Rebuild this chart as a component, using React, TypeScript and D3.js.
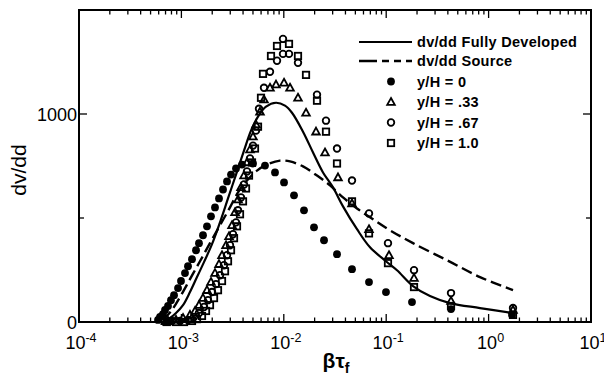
import React from "react";
import * as d3 from "d3";

// ---------- data ----------
// y/H = 0 (filled circles)
const yh0: [number, number][] = [
  [5.91e-4, 10], [6.18e-4, 24], [6.61e-4, 38], [6.92e-4, 58], [7.4e-4, 77], [7.91e-4, 105],
  [8.47e-4, 129], [9.27e-4, 163], [9.91e-4, 197], [1.084e-3, 235], [1.16e-3, 268],
  [1.269e-3, 302], [1.389e-3, 345], [1.485e-3, 379], [1.625e-3, 417], [1.778e-3, 460],
  [1.945e-3, 508], [2.129e-3, 551], [2.329e-3, 594], [2.549e-3, 637], [2.788e-3, 676],
  [3.051e-3, 709], [3.414e-3, 738], [3.906e-3, 757], [5.002e-3, 762], [6.552e-3, 752],
  [8.206e-3, 719], [1.005e-2, 671], [1.258e-2, 609], [1.575e-2, 537], [1.972e-2, 455],
  [2.47e-2, 393], [3.308e-2, 326], [4.634e-2, 254], [6.792e-2, 192], [9.95e-2, 144],
  [0.1786, 96], [0.4295, 62], [1.692, 34],
];
// y/H = .33 (triangles)
const yh33: [number, number][] = [
  [7.0e-4, 3], [7.4e-4, 5], [8.86e-4, 10], [1.037e-3, 19], [1.213e-3, 34], [1.358e-3, 53], [1.485e-3, 81],
  [1.625e-3, 115], [1.778e-3, 153], [1.945e-3, 192], [2.129e-3, 235], [2.329e-3, 278],
  [2.492e-3, 321], [2.727e-3, 369], [2.917e-3, 412], [3.12e-3, 465], [3.338e-3, 527],
  [3.571e-3, 589], [3.819e-3, 647], [4.086e-3, 704], [4.371e-3, 767], [4.676e-3, 829],
  [5.002e-3, 891], [5.351e-3, 949], [5.855e-3, 1011], [6.406e-3, 1069], [7.332e-3, 1126],
  [8.393e-3, 1141], [1.005e-2, 1150], [1.15e-2, 1126], [1.376e-2, 1078], [1.648e-2, 1006],
  [2.063e-2, 915], [2.525e-2, 815], [3.383e-2, 695], [4.634e-2, 570], [6.792e-2, 446],
  [0.1065, 321], [0.1869, 211], [0.4295, 101], [1.731, 58],
];
// y/H = .67 (open circles)
const yh67: [number, number][] = [
  [6.8e-4, 2], [7.6e-4, 3], [8.09e-4, 5], [9.69e-4, 5], [1.16e-3, 10], [1.327e-3, 24], [1.485e-3, 43], [1.662e-3, 72],
  [1.819e-3, 105], [1.99e-3, 144], [2.177e-3, 182], [2.382e-3, 225], [2.606e-3, 273],
  [2.788e-3, 321], [2.983e-3, 369], [3.191e-3, 422], [3.414e-3, 479], [3.571e-3, 537],
  [3.819e-3, 599], [4.086e-3, 661], [4.371e-3, 724], [4.676e-3, 786], [5.002e-3, 848],
  [5.351e-3, 920], [5.725e-3, 1025], [6.406e-3, 1126], [7.332e-3, 1203], [8.583e-3, 1256],
  [9.82e-3, 1289], [1.124e-2, 1289], [9.82e-3, 1361], [1.376e-2, 1246], [2.11e-2, 1093],
  [2.583e-2, 968], [3.308e-2, 834], [4.634e-2, 680], [6.792e-2, 522], [0.1041, 379],
  [0.1869, 249], [0.4295, 139], [1.731, 67],
];
// y/H = 1.0 (open squares)
const yh10: [number, number][] = [
  [7.2e-4, 0], [8.86e-4, 0], [1.06e-3, 0], [1.269e-3, 5], [1.42e-3, 14], [1.589e-3, 29], [1.739e-3, 53],
  [1.902e-3, 81], [2.082e-3, 115], [2.277e-3, 153], [2.492e-3, 197], [2.666e-3, 244],
  [2.852e-3, 292], [3.051e-3, 345], [3.264e-3, 403], [3.491e-3, 460], [3.735e-3, 518],
  [3.995e-3, 580], [4.274e-3, 642], [4.572e-3, 704], [4.891e-3, 767], [5.232e-3, 834],
  [5.598e-3, 939], [5.988e-3, 1078], [6.264e-3, 1193], [7.499e-3, 1279], [8.583e-3, 1327],
  [1.124e-2, 1337], [1.376e-2, 1279], [1.648e-2, 1188], [2.11e-2, 1064], [2.583e-2, 915],
  [3.308e-2, 762], [4.634e-2, 580], [6.792e-2, 426], [0.1041, 283], [0.1869, 168],
  [0.4295, 77], [1.731, 34],
];
// dv/dd fully developed (solid)
const fullyDeveloped: [number, number][] = [
  [6.61e-4, 5], [7.74e-4, 19], [8.86e-4, 43], [1.037e-3, 81], [1.213e-3, 144], [1.42e-3, 216],
  [1.662e-3, 288], [1.99e-3, 374], [2.382e-3, 479], [2.852e-3, 594], [3.414e-3, 709],
  [4.086e-3, 824], [4.782e-3, 920], [5.598e-3, 987], [6.701e-3, 1035], [8.393e-3, 1054],
  [1.027e-2, 1040], [1.202e-2, 1006], [1.54e-2, 915], [1.929e-2, 815], [2.415e-2, 719],
  [3.024e-2, 647], [3.785e-2, 556], [5.186e-2, 446], [6.948e-2, 359], [9.95e-2, 292],
  [0.1275, 249], [0.1827, 173], [0.2677, 125], [0.4198, 91], [0.824, 67], [1.731, 43],
];
// dv/dd source (dashed)
const source: [number, number][] = [
  [6.61e-4, 10], [8.09e-4, 58], [9.69e-4, 120], [1.213e-3, 206], [1.519e-3, 292],
  [1.902e-3, 379], [2.382e-3, 465], [2.983e-3, 551], [3.571e-3, 623], [4.371e-3, 680],
  [5.473e-3, 728], [6.853e-3, 757], [9.18e-3, 776], [1.15e-2, 772], [1.54e-2, 748],
  [2.11e-2, 704], [2.827e-2, 657], [3.785e-2, 599], [5.186e-2, 546], [7.431e-2, 494],
  [0.1089, 441], [0.1827, 379], [0.3925, 297], [0.824, 216], [1.731, 153],
];

const xTickExps = [-4, -3, -2, -1, 0, 1];
const yTicksLabeled = [0, 1000];
const yTicksAll = [0, 500, 1000, 1500];
const legendLabels = [
  "dv/dd Fully Developed",
  "dv/dd Source",
  "y/H = 0",
  "y/H = .33",
  "y/H = .67",
  "y/H = 1.0",
];

// ---------- layout ----------
const W = 604, H = 378;
const L = 79, R = 591, T = 10, B = 322;
const FONT = "'Liberation Sans', Arial, Helvetica, sans-serif";

export default function App() {
  const x = d3.scaleLog().domain([1e-4, 10]).range([L, R]);
  const y = d3.scaleLinear().domain([0, 1500]).range([B, T]);
  const line = d3
    .line<[number, number]>()
    .x((d) => x(d[0]))
    .y((d) => y(d[1]))
    .curve(d3.curveCatmullRom.alpha(0.5));

  const minor: number[] = [];
  for (let e = -4; e < 1; e++) for (let k = 2; k <= 9; k++) minor.push(k * Math.pow(10, e));

  const SW = 1.8;
  const circle = (cx: number, cy: number, key: string) => (
    <circle key={key} cx={cx} cy={cy} r={3.3} fill="none" stroke="#000" strokeWidth={SW} />
  );
  const square = (cx: number, cy: number, key: string) => (
    <rect key={key} x={cx - 3.2} y={cy - 3.2} width={6.4} height={6.4} fill="none" stroke="#000" strokeWidth={SW} />
  );
  const tri = (cx: number, cy: number, key: string) => (
    <path key={key} d={`M${cx},${cy - 4}L${cx + 3.8},${cy + 2.8}L${cx - 3.8},${cy + 2.8}Z`} fill="none" stroke="#000" strokeWidth={SW} />
  );
  const dot = (cx: number, cy: number, key: string) => (
    <circle key={key} cx={cx} cy={cy} r={3.9} fill="#000" />
  );

  const legX1 = 359, legX2 = 412, legTx = 417, legMx = 391;
  const legY = [42, 61, 81.5, 102, 122.5, 143];

  return (
    <svg width={W} height={H} style={{ position: "absolute", left: 0, top: 0, background: "#fff" }} fontFamily={FONT}>
      <rect x={0} y={0} width={W} height={H} fill="#fff" />
      {/* ticks */}
      <g stroke="#000" strokeWidth={1.3}>
        {xTickExps.map((e) => {
          const px = x(Math.pow(10, e));
          return (
            <g key={"xt" + e}>
              <line x1={px} x2={px} y1={B} y2={B - 8} />
              <line x1={px} x2={px} y1={T} y2={T + 8} />
            </g>
          );
        })}
        {minor.map((v, i) => {
          const px = x(v);
          return (
            <g key={"xm" + i}>
              <line x1={px} x2={px} y1={B} y2={B - 4.5} />
              <line x1={px} x2={px} y1={T} y2={T + 4.5} />
            </g>
          );
        })}
        {yTicksAll.map((v) => {
          const py = y(v);
          const len = v === 500 ? 5 : 8;
          return (
            <g key={"yt" + v}>
              <line x1={L} x2={L + len} y1={py} y2={py} />
              <line x1={R} x2={R - len} y1={py} y2={py} />
            </g>
          );
        })}
      </g>
      {/* frame */}
      <rect x={L} y={T} width={R - L} height={B - T} fill="none" stroke="#000" strokeWidth={2} />
      {/* x tick labels */}
      {xTickExps.map((e) => (
        <text key={"xl" + e} x={x(Math.pow(10, e)) + 2} y={349} fontSize={18} textAnchor="middle" fill="#000">
          10<tspan dy={-7} fontSize={12.5}>{e}</tspan>
        </text>
      ))}
      {/* y tick labels */}
      {yTicksLabeled.map((v) => (
        <text key={"yl" + v} x={L - 2} y={y(v) + 6.5} fontSize={18} textAnchor="end" fill="#000">
          {v}
        </text>
      ))}
      {/* axis titles */}
      <text transform={`translate(26,170) rotate(-90)`} fontSize={21} textAnchor="middle" fill="#000">
        dv/dd
      </text>
      <text x={336} y={368} fontSize={21} fontWeight="bold" textAnchor="middle" fill="#000">
        βτ<tspan dy={5} fontSize={14}>f</tspan>
      </text>
      {/* curves */}
      <path d={line(fullyDeveloped) || ""} fill="none" stroke="#000" strokeWidth={2.2} />
      <path d={line(source) || ""} fill="none" stroke="#000" strokeWidth={2.4} strokeDasharray="11,5" />
      {/* markers */}
      {yh10.map((d, i) => square(x(d[0]), y(d[1]), "s" + i))}
      {yh67.map((d, i) => circle(x(d[0]), y(d[1]), "c" + i))}
      {yh33.map((d, i) => tri(x(d[0]), y(d[1]), "t" + i))}
      {yh0.map((d, i) => dot(x(d[0]), y(d[1]), "d" + i))}
      {/* legend */}
      <line x1={legX1} x2={legX2} y1={legY[0]} y2={legY[0]} stroke="#000" strokeWidth={2.2} />
      <line x1={legX1} x2={legX2} y1={legY[1]} y2={legY[1]} stroke="#000" strokeWidth={2.4} strokeDasharray="18,5,7,5,7,5" />
      {dot(legMx, legY[2], "ld")}
      {tri(legMx, legY[3], "lt")}
      {circle(legMx, legY[4], "lc")}
      {square(legMx, legY[5], "ls")}
      {legendLabels.map((t, i) => (
        <text key={"lg" + i} x={legTx} y={legY[i] + 5} fontSize={14.5} fontWeight="bold" letterSpacing={0.3} fill="#000">
          {t}
        </text>
      ))}
    </svg>
  );
}
